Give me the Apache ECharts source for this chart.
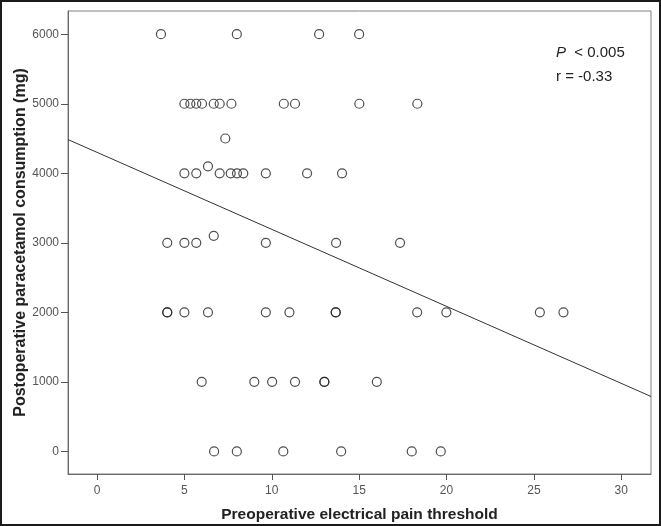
<!DOCTYPE html>
<html>
<head>
<meta charset="utf-8">
<script src="https://cdn.jsdelivr.net/npm/echarts@6/dist/echarts.min.js"></script>
<style>
html,body{margin:0;padding:0;background:#fff;}
#c{width:661px;height:526px;}
</style>
</head>
<body>
<div id="c"></div>
<script>
// Preoperative electrical pain threshold (x) and postoperative paracetamol consumption in mg (y)
const painThreshold = [
  3.66, 8.0, 12.71, 15.0,
  5.0, 5.34, 5.68, 6.01, 6.68, 7.02, 7.69, 10.69, 11.33, 15.01, 18.33,
  7.34,
  6.35,
  5.0, 5.68, 7.02, 7.65, 8.01, 8.37, 9.66, 12.02, 14.02,
  6.68,
  4.02, 5.0, 5.68, 9.66, 13.68, 17.34,
  4.02, 4.02, 5.0, 6.35, 9.66, 11.01, 13.66, 13.66, 18.32, 19.99, 25.34, 26.69,
  5.99, 9.0, 10.02, 11.33, 13.01, 13.01, 16.01,
  6.70, 8.0, 10.66, 13.97, 18.01, 19.67
];
const consumption = [
  6000, 6000, 6000, 6000,
  5000, 5000, 5000, 5000, 5000, 5000, 5000, 5000, 5000, 5000, 5000,
  4500,
  4100,
  4000, 4000, 4000, 4000, 4000, 4000, 4000, 4000, 4000,
  3100,
  3000, 3000, 3000, 3000, 3000, 3000,
  2000, 2000, 2000, 2000, 2000, 2000, 2000, 2000, 2000, 2000, 2000, 2000,
  1000, 1000, 1000, 1000, 1000, 1000, 1000,
  0, 0, 0, 0, 0, 0
];
// Fitted regression line end points
const fitX = [-1.66, 31.7];
const fitY = [4485, 790];
const xTicks = [0, 5, 10, 15, 20, 25, 30];
const yTicks = [0, 1000, 2000, 3000, 4000, 5000, 6000];
const xRange = [-1.66, 31.7];
const yRange = [-325, 6334];
const xTitle = 'Preoperative electrical pain threshold';
const yTitle = 'Postoperative paracetamol consumption (mg)';
const statP = '< 0.005';
const statR = 'r = -0.33';

const points = painThreshold.map((v, i) => [v, consumption[i]]);
const fitLine = fitX.map((v, i) => [v, fitY[i]]);

const chart = echarts.init(document.getElementById('c'), null, {renderer: 'canvas'});
const font = 'Liberation Sans, Arial, sans-serif';
chart.setOption({
  backgroundColor: '#fff',
  animation: false,
  grid: {left: 68, top: 11, right: 10, bottom: 52, containLabel: false, outerBoundsMode: 'none',
    show: true, borderColor: '#808080', borderWidth: 1, backgroundColor: '#fff'},
  xAxis: {
    type: 'value', min: xRange[0], max: xRange[1],
    name: xTitle, nameLocation: 'middle', nameGap: 33, nameMoveOverlap: false,
    nameTextStyle: {fontFamily: font, fontWeight: 'bold', fontSize: 15.5, color: '#222'},
    axisLine: {show: true, onZero: false, lineStyle: {color: '#6a6a6a', width: 1}},
    axisTick: {show: true, customValues: xTicks, length: 6, inside: false, lineStyle: {color: '#555'}},
    axisLabel: {customValues: xTicks, formatter: v => String(v), fontFamily: font, fontSize: 12, color: '#555', margin: 11},
    splitLine: {show: false}
  },
  yAxis: {
    type: 'value', min: yRange[0], max: yRange[1],
    name: yTitle, nameLocation: 'middle', nameGap: 39, nameMoveOverlap: false,
    nameTextStyle: {fontFamily: font, fontWeight: 'bold', fontSize: 16, color: '#222'},
    axisLine: {show: true, onZero: false, lineStyle: {color: '#6a6a6a', width: 1}},
    axisTick: {show: true, customValues: yTicks, length: 7, inside: false, lineStyle: {color: '#555'}},
    axisLabel: {customValues: yTicks, formatter: v => String(v), fontFamily: font, fontSize: 12, color: '#555', margin: 9},
    splitLine: {show: false}
  },
  series: [
    {
      type: 'scatter', data: points, symbol: 'circle', symbolSize: 9,
      itemStyle: {color: 'rgba(0,0,0,0)', borderColor: '#222', borderWidth: 1.2},
      emphasis: {disabled: true}
    },
    {
      type: 'line', data: fitLine, symbol: 'none', lineStyle: {color: '#333', width: 1},
      emphasis: {disabled: true}
    }
  ],
  graphic: [
    {type: 'rect', shape: {x: 1, y: 1, width: 659, height: 524}, style: {fill: 'none', stroke: '#1a1a1a', lineWidth: 2}, silent: true},
    {type: 'text', left: 556, top: 45, style: {text: '{i|P}  ' + statP, font: '15px ' + font, fill: '#222',
      rich: {i: {fontStyle: 'italic', fontSize: 15, fontFamily: font, fill: '#222'}}}},
    {type: 'text', left: 556, top: 69, style: {text: statR, font: '15px ' + font, fill: '#222'}}
  ]
});
</script>
</body>
</html>
